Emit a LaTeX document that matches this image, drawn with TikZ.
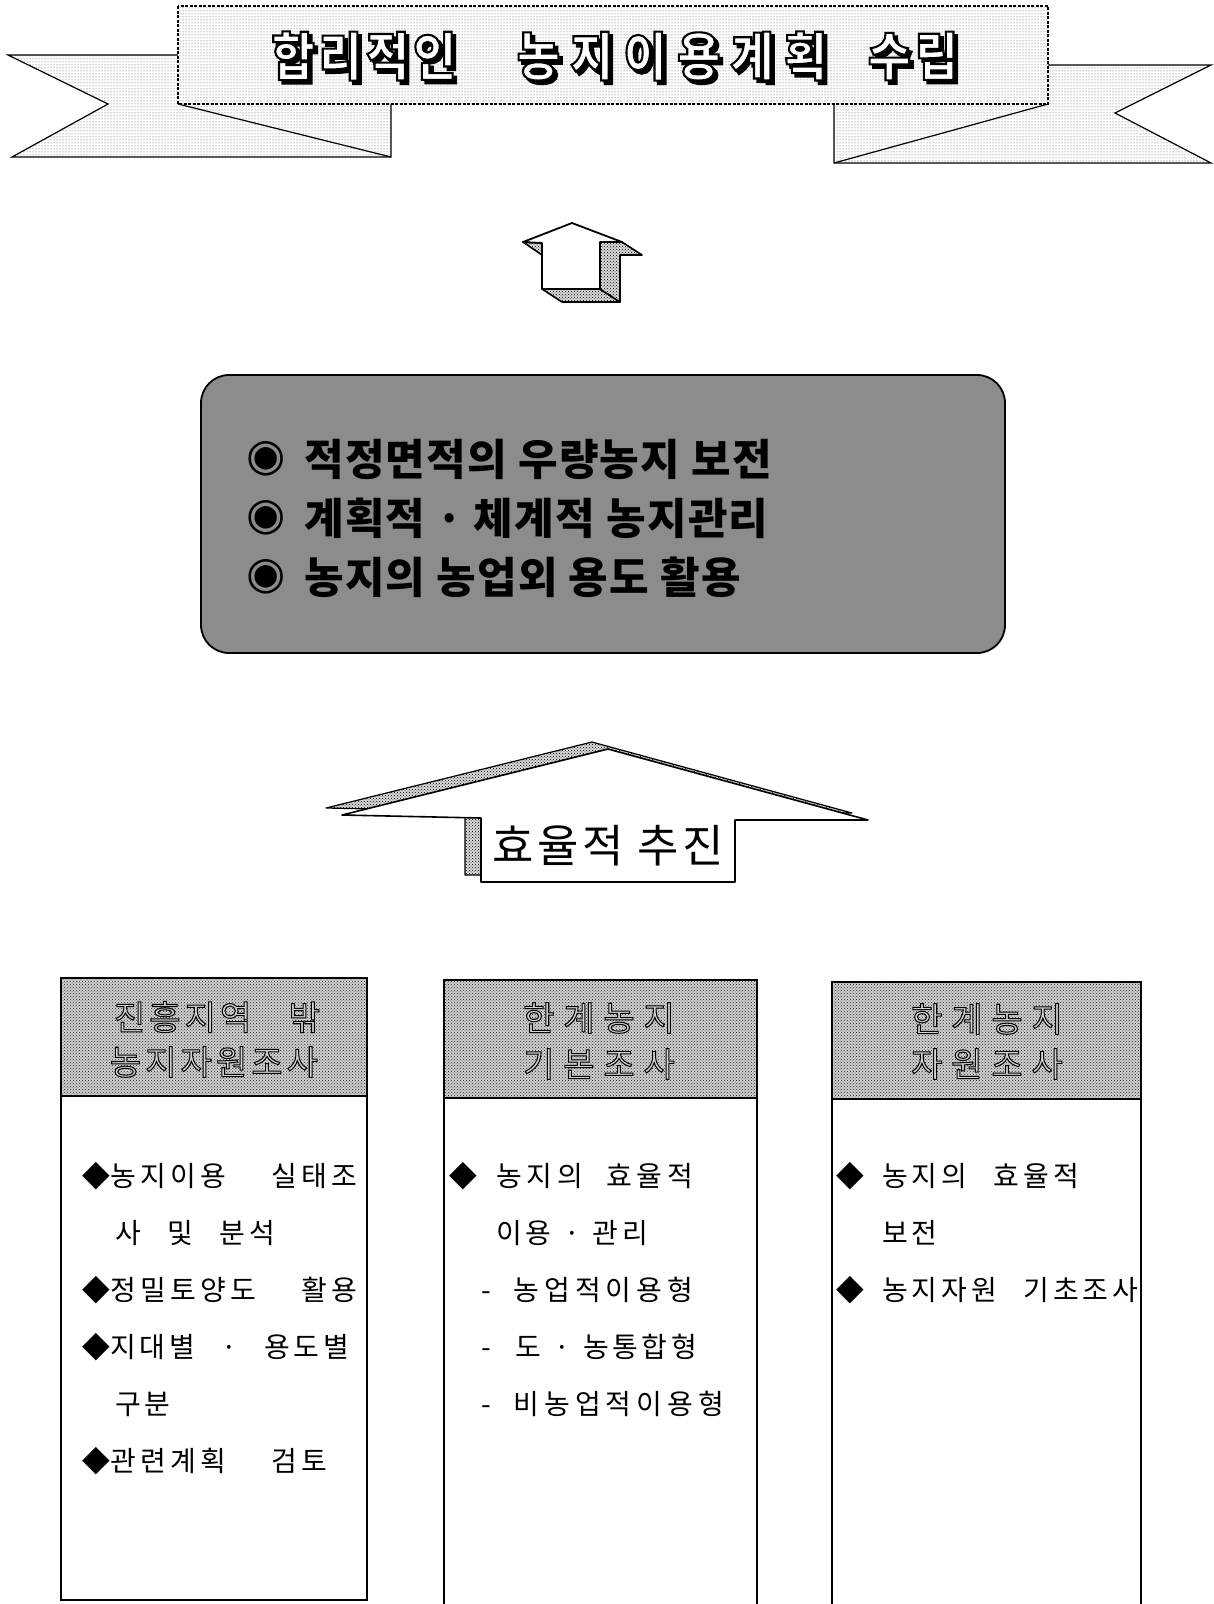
\documentclass[tikz,border=0pt]{standalone}
\usepackage{fontspec}
\usetikzlibrary{patterns}
\newfontfamily\krtitle{Noto Sans CJK KR}[FakeStretch=0.9, LetterSpace=8, BoldFeatures={FakeBold=4}]
\newfontfamily\krtitleW{Noto Sans CJK KR}[FakeStretch=0.9, LetterSpace=20, BoldFeatures={FakeBold=4}]
\newfontfamily\krmid{Noto Sans CJK KR}[LetterSpace=3]
\newfontfamily\krarrow{Noto Sans CJK KR}[LetterSpace=8]
\newfontfamily\krheadA{Noto Sans CJK KR}[LetterSpace=12, WordSpace=3.2, FakeBold=3]
\newfontfamily\krheadB{Noto Sans CJK KR}[LetterSpace=26, FakeBold=3]
\newfontfamily\krbodyA{Noto Sans CJK KR}[LetterSpace=15, WordSpace=4.4]
\newfontfamily\krbodyB{Noto Sans CJK KR}[LetterSpace=14, WordSpace=2.6]
\newfontfamily\krbodyC{Noto Sans CJK KR}[LetterSpace=13, WordSpace=1.3]
\newfontfamily\krbodyD{Noto Sans CJK KR}[LetterSpace=18, WordSpace=2.0]
\newfontfamily\symfont{DejaVu Sans}
\newcommand\strokeblack{\special{pdf:literal direct 0 G}}
\tikzset{
  bannerpart/.style={preaction={fill=white}, pattern=dots, pattern color=black!70, draw=black, line width=1.2pt, line join=miter},
  bannerrect/.style={bannerpart, dash pattern=on 3pt off 1.5pt},
  denseshade/.style={preaction={fill=gray!30}, pattern=crosshatch dots, pattern color=black, draw=black, line width=1.6pt, line join=round},
  frontface/.style={fill=white, draw=black, line width=1.8pt, line join=round},
  headfill/.style={preaction={fill=gray!38}, pattern=crosshatch dots, pattern color=black!85, draw=black, line width=1.8pt},
  bodybox/.style={fill=white, draw=black, line width=1.8pt},
  titletext/.style={font={\krtitle\bfseries\fontsize{52}{60}\selectfont}, inner sep=0pt},
  titletextw/.style={font={\krtitleW\bfseries\fontsize{52}{60}\selectfont}, inner sep=0pt},
  midtext/.style={font={\krmid\bfseries\fontsize{43}{43}\selectfont}, anchor=west, inner sep=0pt},
  bulletsym/.style={font={\symfont\fontsize{45}{45}\selectfont}, inner sep=0pt},
  arrowtext/.style={font={\krarrow\fontsize{45}{45}\selectfont}, inner sep=0pt},
  headtext/.style={font={\krheadA\fontsize{34}{34}\selectfont}, inner sep=0pt, text=gray!35},
  headtextw/.style={font={\krheadB\fontsize{34}{34}\selectfont}, inner sep=0pt, text=gray!35},
  bodyA/.style={font={\krbodyA\fontsize{28}{28}\selectfont}, anchor=west, inner sep=0pt},
  bodyB/.style={font={\krbodyB\fontsize{28}{28}\selectfont}, anchor=west, inner sep=0pt},
  bodyC/.style={font={\krbodyC\fontsize{28}{28}\selectfont}, anchor=west, inner sep=0pt},
  bodyD/.style={font={\krbodyD\fontsize{28}{28}\selectfont}, anchor=west, inner sep=0pt},
  dia/.style={font={\symfont\fontsize{36}{36}\selectfont}, inner sep=0pt},
}
\begin{document}
\begin{tikzpicture}[x=1pt,y=-1pt]
\useasboundingbox (0,0) rectangle (1214,1604);
\fill[white] (0,0) rectangle (1214,1604);

% ---------- banner ----------
\path[bannerpart] (8,55) -- (391,55) -- (391,157) -- (12,157) -- (108,104) -- cycle;
\draw[line width=1.2pt] (178,104) -- (391,157);
\path[bannerpart] (1211,65) -- (834,65) -- (834,163) -- (1211,163) -- (1115,113) -- cycle;
\draw[line width=1.2pt] (1048,104) -- (834,163);
\path[bannerrect] (178,6) rectangle (1048,104);

\node[titletext, text=black, xshift=3.5pt, yshift=-3.5pt] (t1s) at (364,56) {합리적인};
\node[titletextw, text=black, xshift=3.5pt, yshift=-3.5pt] (t2s) at (672,56) {농지이용계획};
\node[titletext, text=black, xshift=3.5pt, yshift=-3.5pt] (t3s) at (913,56) {수립};
\node[titletext, text=white] (t1) at (364,56) {\strokeblack 합리적인};
\node[titletextw, text=white] (t2) at (672,56) {\strokeblack 농지이용계획};
\node[titletext, text=white] (t3) at (913,56) {\strokeblack 수립};

% ---------- small 3D up arrow ----------
\path[denseshade] (542,289) -- (600,289) -- (620,302) -- (562,302) -- cycle;
\path[denseshade] (600,242) -- (622,242) -- (642,255) -- (620,255) -- (620,302) -- (600,289) -- cycle;
\path[denseshade] (523,242) -- (542,243) -- (542,255) -- cycle;
\path[frontface] (572,223) -- (622,242) -- (600,242) -- (600,289) -- (542,289) -- (542,243) -- (523,242) -- cycle;

% ---------- middle rounded box ----------
\draw[fill=black!45, draw=black, line width=1.8pt, rounded corners=28pt] (201,375) rectangle (1005,653);
\node[bulletsym] (b1) at (266,459) {◉};
\node[bulletsym] (b2) at (266,518) {◉};
\node[bulletsym] (b3) at (266,577) {◉};
\node[midtext] (m1) at (304,459) {적정면적의 우량농지 보전};
\node[midtext] (m2) at (304,518) {계획적 · 체계적 농지관리};
\node[midtext] (m3) at (304,577) {농지의 농업외 용도 활용};

% ---------- big up arrow ----------
\path[denseshade, line width=1.2pt] (592,742) -- (852,813) -- (719,813) -- (719,875) -- (465,875) -- (465,811) -- (326,808) -- cycle;
\path[frontface, line width=1.6pt] (608,749) -- (868,820) -- (735,820) -- (735,882) -- (481,882) -- (481,818) -- (342,815) -- cycle;
\node[arrowtext] (arr) at (608,846) {효율적 추진};

% ---------- bottom boxes ----------
\path[bodybox] (61,1096) rectangle (367,1600);
\path[headfill] (61,978) rectangle (367,1096);
\path[bodybox] (444,1098) rectangle (757,1614);
\path[headfill] (444,980) rectangle (757,1098);
\path[bodybox] (832,1099) rectangle (1141,1614);
\path[headfill] (832,982) rectangle (1141,1099);

\node[headtext] (h1a) at (217,1017) {\strokeblack 진흥지역 밖};
\node[headtext] (h1b) at (214,1062) {\strokeblack 농지자원조사};
\node[headtextw] (h2a) at (599,1018) {\strokeblack 한계농지};
\node[headtextw] (h2b) at (599,1064) {\strokeblack 기본조사};
\node[headtextw] (h3a) at (987,1019) {\strokeblack 한계농지};
\node[headtextw] (h3b) at (987,1064) {\strokeblack 자원조사};

% box 1 body
\node[dia] (d1a) at (96,1176) {◆};
\node[bodyA] (l1a) at (110,1176) {농지이용 실태조};
\node[bodyB] (l1b) at (115,1233) {사 및 분석};
\node[dia] (d1c) at (96,1290) {◆};
\node[bodyA] (l1c) at (110,1290) {정밀토양도 활용};
\node[dia] (d1d) at (96,1347) {◆};
\node[bodyB] (l1d) at (110,1347) {지대별 · 용도별};
\node[bodyB] (l1e) at (115,1404) {구분};
\node[dia] (d1f) at (96,1461) {◆};
\node[bodyA] (l1f) at (110,1461) {관련계획 검토};

% box 2 body
\node[dia] (d2a) at (463,1176) {◆};
\node[bodyD] (l2a) at (496,1176) {농지의 효율적};
\node[bodyC] (l2b) at (496,1233) {이용 · 관리};
\node[bodyD] (l2c) at (481,1290) {- 농업적이용형};
\node[bodyC] (l2d) at (481,1347) {- \kern12pt 도 · 농통합형};
\node[bodyD] (l2e) at (481,1404) {- 비농업적이용형};

% box 3 body
\node[dia] (d3a) at (850,1176) {◆};
\node[bodyB] (l3a) at (882,1176) {농지의 효율적};
\node[bodyB] (l3b) at (882,1233) {보전};
\node[dia] (d3c) at (850,1290) {◆};
\node[bodyB] (l3c) at (882,1290) {농지자원 기초조사};
\end{tikzpicture}
\end{document}
